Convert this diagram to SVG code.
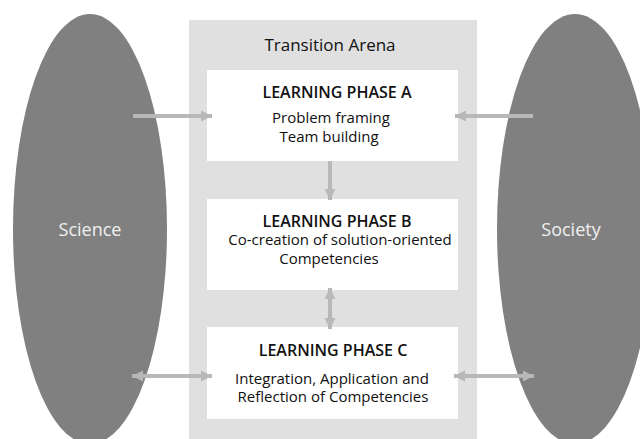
<svg xmlns="http://www.w3.org/2000/svg" width="640" height="439" viewBox="0 0 640 439">
<style>
.ell{fill:#808080}
.panel{fill:#e0e0e0}
.box{fill:#ffffff}
.t{font-family:"Open Sans","Liberation Sans",sans-serif;text-anchor:middle;fill:#111111}
.h{font-size:16px;font-weight:600}
.b{font-size:15px}
.w{font-family:"Open Sans","Liberation Sans",sans-serif;text-anchor:middle;fill:#f0f0f0;font-size:18px}
.c{stroke:#b8b8b8;stroke-width:4;fill:none}
</style>
<defs>
<marker id="ah" viewBox="0 0 10 10" refX="10" refY="5" markerWidth="11" markerHeight="13" markerUnits="userSpaceOnUse" orient="auto-start-reverse">
<path d="M0,0 L10,5 L0,10 Z" fill="#b8b8b8"/>
</marker>
</defs>
<rect class="panel" x="189" y="20" width="288" height="430"/>
<g id="science">
<ellipse class="ell" cx="90" cy="229" rx="77" ry="215"/>
<text class="w" x="90" y="236">Science</text>
</g>
<g id="society">
<ellipse class="ell" cx="575" cy="229" rx="78" ry="215"/>
<text class="w" x="571" y="236">Society</text>
</g>
<g id="arena">
<text class="t" x="330" y="51" style="font-size:17px">Transition Arena</text>
</g>
<g id="phaseA">
<rect class="box" x="207" y="70" width="251" height="91"/>
<text class="t h" x="337" y="98">LEARNING PHASE A</text>
<text class="t b" x="331" y="123">Problem framing</text>
<text class="t b" x="329" y="142">Team building</text>
</g>
<g id="phaseB">
<rect class="box" x="207" y="199" width="251" height="91"/>
<text class="t h" x="337" y="227">LEARNING PHASE B</text>
<text class="t b" x="340" y="245">Co-creation of solution-oriented</text>
<text class="t b" x="329" y="264">Competencies</text>
</g>
<g id="phaseC">
<rect class="box" x="207" y="327" width="251" height="92"/>
<text class="t h" x="333" y="356">LEARNING PHASE C</text>
<text class="t b" x="332" y="384">Integration, Application and</text>
<text class="t b" x="333" y="402">Reflection of Competencies</text>
</g>
<g id="connectors">
<line class="c" x1="133" y1="116" x2="212" y2="116" marker-end="url(#ah)"/>
<line class="c" x1="533" y1="116" x2="455" y2="116" marker-end="url(#ah)"/>
<line class="c" x1="330" y1="161" x2="330" y2="200" marker-end="url(#ah)"/>
<line class="c" x1="330" y1="288" x2="330" y2="329" marker-start="url(#ah)" marker-end="url(#ah)"/>
<line class="c" x1="132" y1="376" x2="212" y2="376" marker-start="url(#ah)" marker-end="url(#ah)"/>
<line class="c" x1="454" y1="376" x2="534" y2="376" marker-start="url(#ah)" marker-end="url(#ah)"/>
</g>
</svg>
